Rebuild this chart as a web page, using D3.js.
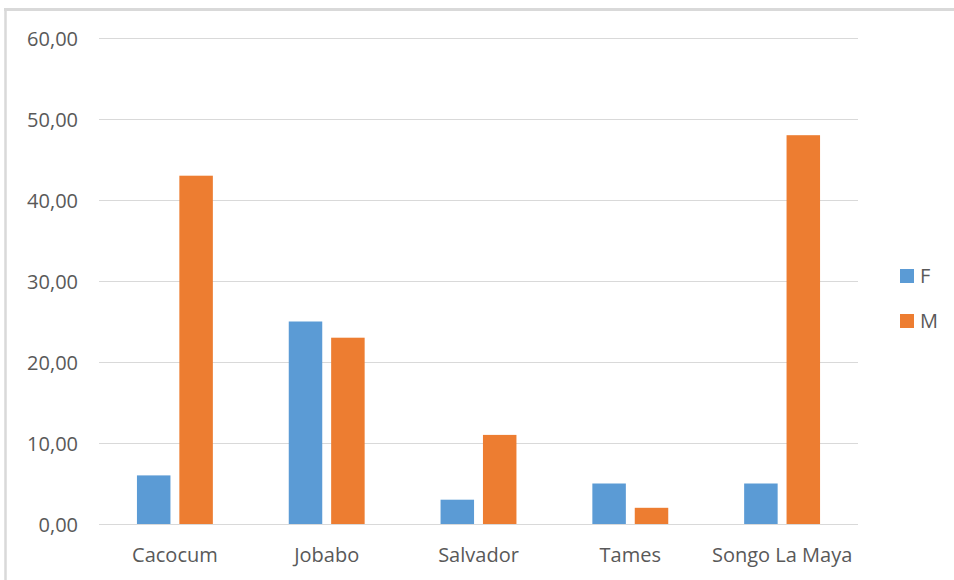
<!DOCTYPE html>
<html>
<head>
<meta charset="utf-8">
<script src="https://cdnjs.cloudflare.com/ajax/libs/d3/7.8.5/d3.min.js"></script>
<style>
  html, body { margin: 0; padding: 0; background: #fff; }
  svg { display: block; }
</style>
</head>
<body>
<svg id="chart" width="954" height="580"></svg>
<script>
// Municipalities and counts by sex
const categories = ["Cacocum", "Jobabo", "Salvador", "Tames", "Songo La Maya"];
const seriesNames = ["F", "M"];
const valuesF = [6, 25, 3, 5, 5];
const valuesM = [43, 23, 11, 2, 48];
const yTicks = [0, 10, 20, 30, 40, 50, 60];

const colors = { F: "#5B9BD5", M: "#ED7D31" };
const textColor = "#595959";
const gridColor = "#d9d9d9";
const fontFamily = "'Open Sans', 'Noto Sans', sans-serif";

const svg = d3.select("#chart");
const W = 954, H = 580;

// chart frame (top and left edges)
svg.append("line").attr("x1", 4).attr("x2", W).attr("y1", 9.5).attr("y2", 9.5)
  .attr("stroke", "#d9d9d9").attr("stroke-width", 3);
svg.append("line").attr("x1", 5.5).attr("x2", 5.5).attr("y1", 8).attr("y2", H)
  .attr("stroke", "#d9d9d9").attr("stroke-width", 2.5);

const plot = { left: 99, right: 858, top: 38, bottom: 524 };

const y = d3.scaleLinear().domain([0, 60]).range([plot.bottom, plot.top]);
const x0 = d3.scaleBand().domain(categories).range([plot.left, plot.right]).padding(0);
const x1 = d3.scaleBand().domain(seriesNames)
  .range([x0.bandwidth() * 0.25, x0.bandwidth() * 0.75]).paddingInner(0.21);

const locale = d3.formatLocale({ decimal: ",", thousands: ".", grouping: [3], currency: ["", ""] });
const fmt = locale.format(".2f");

// gridlines
svg.append("g").selectAll("line").data(yTicks).join("line")
  .attr("x1", plot.left).attr("x2", plot.right)
  .attr("y1", d => Math.round(y(d)) + 0.5).attr("y2", d => Math.round(y(d)) + 0.5)
  .attr("stroke", gridColor).attr("stroke-width", 1);

// y axis labels
const yAxis = d3.axisLeft(y).tickValues(yTicks).tickFormat(fmt).tickSize(0).tickPadding(0);
const gy = svg.append("g").attr("transform", "translate(78,0)").call(yAxis);
gy.select(".domain").remove();
gy.selectAll("text").attr("fill", textColor).attr("font-family", fontFamily)
  .attr("font-size", 20).attr("dy", "0.35em");

// x axis labels
const xAxis = d3.axisBottom(x0).tickSize(0).tickPadding(0);
const gx = svg.append("g").attr("transform", `translate(0,${plot.bottom})`).call(xAxis);
gx.select(".domain").remove();
gx.selectAll("text").attr("fill", textColor).attr("font-family", fontFamily)
  .attr("font-size", 20).attr("y", 38).attr("dy", 0);

// bars
const rows = categories.map((c, i) => ({ cat: c, F: valuesF[i], M: valuesM[i] }));
const groups = svg.append("g").selectAll("g").data(rows).join("g")
  .attr("transform", d => `translate(${x0(d.cat)},0)`);
groups.selectAll("rect")
  .data(d => seriesNames.map(k => ({ key: k, value: d[k] })))
  .join("rect")
  .attr("x", d => x1(d.key))
  .attr("width", x1.bandwidth())
  .attr("y", d => y(d.value))
  .attr("height", d => y(0) - y(d.value))
  .attr("fill", d => colors[d.key]);

// legend
const legend = svg.append("g").selectAll("g").data(seriesNames).join("g")
  .attr("transform", (d, i) => `translate(900,${269 + i * 45})`);
legend.append("rect").attr("width", 14).attr("height", 14).attr("fill", d => colors[d]);
legend.append("text").attr("x", 20).attr("y", 7).attr("dy", "0.36em")
  .attr("fill", textColor).attr("font-family", fontFamily).attr("font-size", 20)
  .text(d => d);
</script>
</body>
</html>
